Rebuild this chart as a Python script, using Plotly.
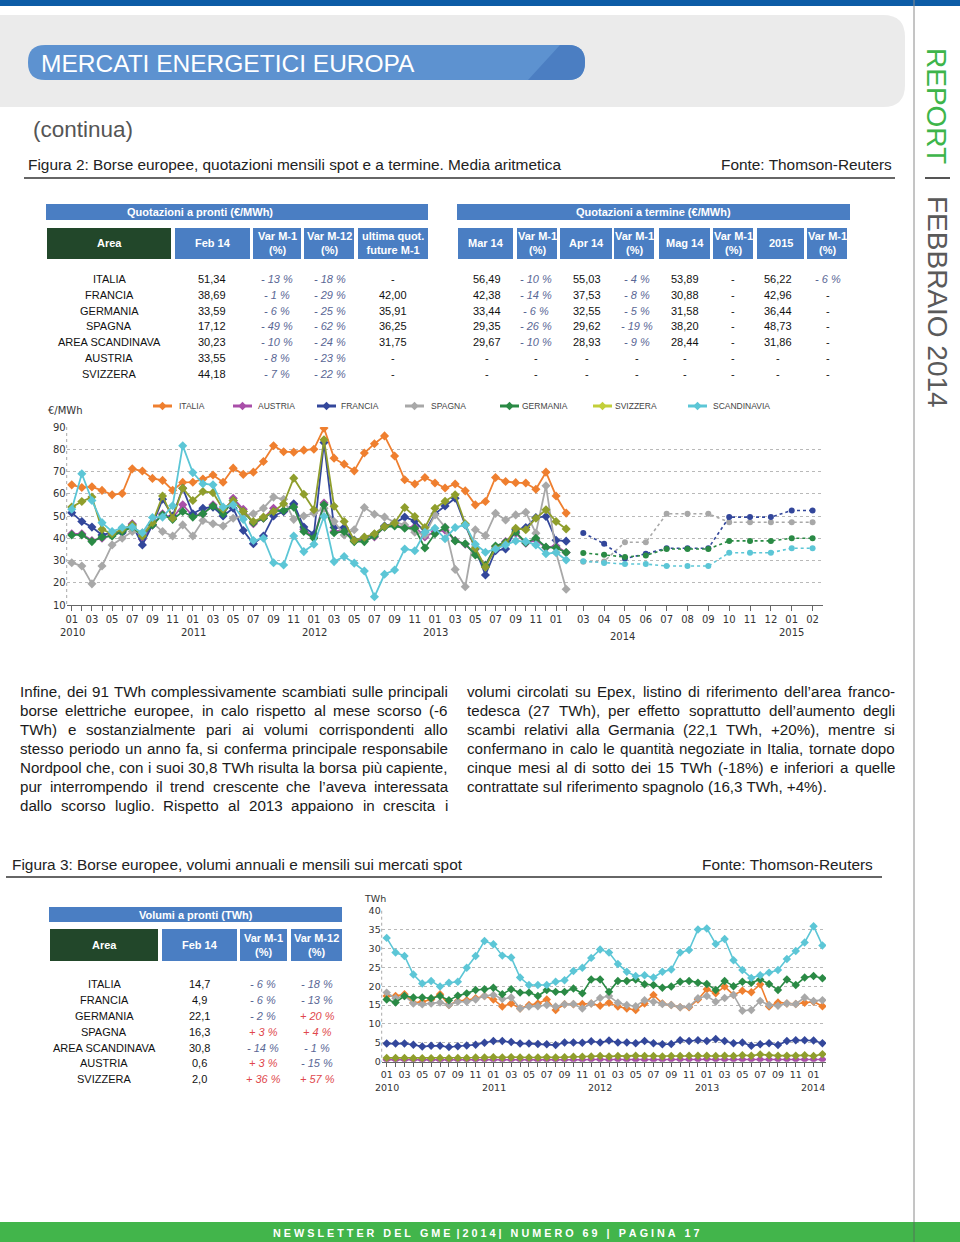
import plotly.graph_objects as go
import numpy as np

W, H = 960, 1242

# ------------------------------------------------------------------ DATA
hist_months = ["01", "02", "03", "04", "05", "06", "07", "08", "09", "10", "11", "12"] * 4 + ["01", "02"]
hist_years = ["2010", "2011", "2012", "2013"]
fwd_months = ["03", "04", "05", "06", "07", "08", "09", "10", "11", "12", "01", "02"]
fwd_years = ["2014", "2015"]

price_italia = [64, 62.8, 63.1, 61.5, 59.5, 60.1, 71.2, 70.2, 66.9, 66, 61.6, 65.1,
                65.2, 66.6, 68.4, 65.2, 71.5, 68.7, 69.7, 74.5, 81.6, 78.9, 78.7, 79.6,
                80, 89.5, 76, 73.3, 70.3, 78.3, 82.5, 86, 77, 66.3, 64.4, 67.3,
                64.8, 62.6, 64.4, 61.3, 55, 56.5, 67.3, 65.5, 65, 64.8, 62, 69.7,
                59, 51.3]
price_austria = [42, 42, 39, 40, 41.5, 43, 46.5, 39.5, 46, 51, 49, 55,
                 50, 51, 55, 51.5, 58, 53, 46.5, 49, 53.5, 52, 55, 44,
                 40.6, 55.8, 43, 43.8, 38.8, 39.2, 40.6, 45.2, 46, 44.8, 45.2, 40.6,
                 43, 43.6, 39, 37.3, 32.8, 28, 36.2, 38.5, 42.3, 37.8, 39.2, 35.8,
                 36.5, 33.6]
price_francia = [51.5, 47.5, 45, 41.5, 42.5, 42.5, 46, 37, 46, 57.5, 50, 62.5,
                 51, 53.5, 54, 50, 53.5, 43.5, 37.5, 41, 50, 52, 55.5, 45,
                 41.8, 83, 44.8, 44.8, 39.2, 40.3, 41.8, 45.5, 46.8, 49.5, 47.8, 42.7,
                 51, 54.5, 58, 46, 35.2, 23.5, 34.4, 35.2, 43.8, 44.8, 49.3, 49.8,
                 39.1, 38.7]
price_spagna = [29, 27.5, 19.5, 27.5, 37, 40, 43, 42.5, 47, 43, 41, 46,
                41, 48, 46.5, 45.5, 49, 50, 51, 53.5, 58.5, 57.5, 48.5, 50,
                51.3, 53.5, 47.5, 41.5, 43.8, 53.8, 50.8, 49.5, 47.2, 46, 42.7, 41.5,
                50.5, 45, 26, 18.2, 43.8, 41.2, 51.2, 48.2, 50.5, 51.7, 42.3, 63.6,
                33.6, 17.1]
price_germania = [41.5, 41.5, 38.5, 40.5, 41, 43, 45, 41, 46, 50.5, 48.5, 52,
                  49.5, 51, 54.5, 51, 57, 52, 47, 49, 52, 52.5, 54, 43,
                  40, 55, 42.5, 43, 38.5, 38.5, 41, 45, 45.5, 44.5, 44.5, 35.6,
                  42, 44.8, 38.8, 37.5, 32.5, 27.8, 36.5, 38.2, 42.8, 38, 40, 36,
                  35.7, 33.6]
price_svizzera = [54, 56.5, 58.5, 44, 42, 44, 46, 41, 47, 59, 49, 62.5,
                  57, 61, 60.5, 53, 57, 52, 47.5, 49.5, 52, 55.5, 67, 59.8,
                  52.8, 84.3, 54.4, 47.5, 39, 40.5, 42, 45.3, 46.8, 53.8, 49.8, 44.8,
                  53.5, 56.6, 59.5, 46.5, 35.5, 27, 35.5, 37.5, 44.5, 43.8, 49, 52.8,
                  47.5, 44.2]
price_scandinavia = [53, 69, 57, 47, 43, 44.8, 45, 42.5, 49.3, 49.5, 54.6, 81.6,
                     69.5, 64.5, 64, 54, 55, 48.5, 39, 40, 29, 28, 41, 34,
                     37.3, 49.8, 29.5, 31.8, 28.8, 25.3, 13.7, 23.8, 25.7, 35.2, 34.4, 42.7,
                     44.5, 39.8, 44.8, 46, 37.3, 33.7, 35.2, 37, 38.8, 38.5, 37, 33,
                     33.6, 30.2]

fwd_francia = [42.4, 37.5, 30.9, 33.0, 35.5, 35.5, 35.5, 49.5, 49.5, 49.5, 52.5, 52.5]
fwd_spagna = [29.4, 29.6, 38.2, 38.2, 51, 51, 51, 47.2, 47.2, 47.2, 47.2, 47.2]
fwd_germania = [33.4, 32.6, 31.6, 32.3, 35.2, 35.2, 35.2, 38.8, 38.8, 38.8, 40, 40]
fwd_scandinavia = [29.7, 28.9, 28.4, 28.4, 27.5, 27.5, 27.5, 33.5, 33.5, 33.5, 35.5, 35.5]

vol_years = ["2010", "2011", "2012", "2013", "2014"]
vol_italia = [17.4, 17.4, 17.9, 15.6, 15.9, 16.5, 17.9, 15, 16.1, 16.3, 16.8, 17.4,
              16.5, 14.6, 15.4, 14.1, 15, 15.4, 16.5, 13.7, 15.2, 15.2, 15.3, 15.4,
              14.8, 15.6, 14.6, 14.1, 13.7, 15.4, 17.7, 15.4, 15, 14.4, 14.4, 16.5,
              19.2, 18.1, 19.9, 17.7, 18.8, 18.4, 20.5, 14.6, 15.7, 15.4, 15.3, 15.6,
              15.9, 14.7]
vol_francia = [4.8, 4.8, 4.8, 4.5, 4.0, 4.2, 4.2, 3.9, 4.1, 4.3, 4.5, 5.0,
               5.5, 5.5, 5.2, 4.8, 4.8, 4.7, 4.6, 4.4, 5.1, 5.1, 5.0, 5.4,
               5.1, 5.6, 5.1, 5.1, 4.9, 5.5, 4.9, 4.6, 4.7, 5.7, 5.5, 5.7,
               5.5, 6.0, 5.5, 4.9, 5.1, 4.2, 4.6, 4.9, 4.4, 5.5, 5.7, 5.7,
               5.6, 4.9]
vol_germania = [16.5, 15.7, 17.4, 17, 17, 16.8, 17.4, 16.3, 17.5, 18.1, 19, 19.2,
                19.6, 17.9, 19.2, 18.3, 18.3, 17.4, 19, 18.5, 18.5, 19.4, 18.1, 21.8,
                21.8, 18.5, 21.4, 21.4, 21.8, 20.5, 20.3, 19.6, 19.9, 21.2, 21.4, 20.9,
                20.6, 19, 21.4, 20, 21.2, 20.9, 21.8, 20.6, 19, 21.8, 20.3, 22.3,
                22.7, 22.1]
vol_spagna = [18.3, 16.8, 17.4, 15.4, 15.2, 15.4, 15.7, 15, 15.9, 15.9, 16.5, 17.4,
              17.7, 16.6, 17, 14.1, 14.6, 14.7, 15, 14.6, 15.2, 15.3, 14.1, 15.4,
              16.9, 17.4, 15.6, 15, 14.7, 16.3, 15.9, 15.3, 15, 14.4, 14.6, 16.8,
              17.4, 15.9, 16.9, 17.7, 13.5, 13.7, 16.1, 15, 14.8, 15.4, 15.3, 17,
              16.1, 16.3]
vol_scandinavia = [32.8, 28.9, 28, 23.1, 20.7, 21.4, 19.9, 20.9, 21.2, 24.9, 28, 32,
                   31.1, 28.1, 27.6, 22.3, 20.3, 20.3, 20.3, 21.2, 21.6, 24, 24.9, 27.5,
                   29.7, 28.9, 25.9, 23.8, 22.7, 22.9, 22.3, 23.8, 24.4, 28.9, 29.6, 35,
                   35.3, 31.2, 32.5, 26.9, 24.3, 22.2, 22.9, 23.6, 24.3, 27.2, 29.3, 31.6,
                   35.9, 30.8]
vol_austria = [0.5, 0.5, 0.5, 0.5, 0.4, 0.4, 0.4, 0.4, 0.5, 0.5, 0.5, 0.5,
               0.5, 0.5, 0.5, 0.5, 0.5, 0.4, 0.5, 0.5, 0.5, 0.5, 0.5, 0.6,
               0.6, 0.5, 0.6, 0.5, 0.5, 0.5, 0.5, 0.5, 0.6, 0.6, 0.6, 0.6,
               0.7, 0.6, 0.6, 0.6, 0.6, 0.6, 0.6, 0.6, 0.6, 0.6, 0.6, 0.6,
               0.6, 0.6]
vol_svizzera = [1.0, 1.0, 1.0, 0.9, 0.9, 0.9, 1.0, 0.9, 1.0, 1.0, 1.1, 1.1,
                1.2, 1.1, 1.2, 1.1, 1.1, 1.1, 1.2, 1.1, 1.2, 1.3, 1.3, 1.4,
                1.5, 1.4, 1.5, 1.4, 1.6, 1.5, 1.5, 1.4, 1.5, 1.5, 1.6, 1.6,
                1.6, 1.5, 1.6, 1.5, 1.7, 1.6, 1.9, 1.7, 1.6, 1.6, 1.6, 1.7,
                1.5, 2.0]

# tables
spot_areas = ["ITALIA", "FRANCIA", "GERMANIA", "SPAGNA", "AREA SCANDINAVA", "AUSTRIA", "SVIZZERA"]
spot_feb14 = ["51,34", "38,69", "33,59", "17,12", "30,23", "33,55", "44,18"]
spot_varm1 = ["- 13 %", "- 1 %", "- 6 %", "- 49 %", "- 10 %", "- 8 %", "- 7 %"]
spot_varm12 = ["- 18 %", "- 29 %", "- 25 %", "- 62 %", "- 24 %", "- 23 %", "- 22 %"]
spot_future = ["-", "42,00", "35,91", "36,25", "31,75", "-", "-"]
term_mar = ["56,49", "42,38", "33,44", "29,35", "29,67", "-", "-"]
term_mar_var = ["- 10 %", "- 14 %", "- 6 %", "- 26 %", "- 10 %", "-", "-"]
term_apr = ["55,03", "37,53", "32,55", "29,62", "28,93", "-", "-"]
term_apr_var = ["- 4 %", "- 8 %", "- 5 %", "- 19 %", "- 9 %", "-", "-"]
term_mag = ["53,89", "30,88", "31,58", "38,20", "28,44", "-", "-"]
term_mag_var = ["-", "-", "-", "-", "-", "-", "-"]
term_2015 = ["56,22", "42,96", "36,44", "48,73", "31,86", "-", "-"]
term_2015_var = ["- 6 %", "-", "-", "-", "-", "-", "-"]
vol_feb14 = ["14,7", "4,9", "22,1", "16,3", "30,8", "0,6", "2,0"]
vol_varm1 = ["- 6 %", "- 6 %", "- 2 %", "+ 3 %", "- 14 %", "+ 3 %", "+ 36 %"]
vol_varm12 = ["- 18 %", "- 13 %", "+ 20 %", "+ 4 %", "- 1 %", "- 15 %", "+ 57 %"]

para_left = [
    "Infine, dei 91 TWh complessivamente scambiati sulle principali",
    "borse elettriche europee, in calo rispetto al mese scorso (-6",
    "TWh) e sostanzialmente pari ai volumi corrispondenti allo",
    "stesso periodo un anno fa, si conferma principale responsabile",
    "Nordpool che, con i suoi 30,8 TWh risulta la borsa più capiente,",
    "pur interrompendo il trend crescente che l’aveva interessata",
    "dallo scorso luglio. Rispetto al 2013 appaiono in crescita i",
]
para_right = [
    "volumi circolati su Epex, listino di riferimento dell’area franco-",
    "tedesca (27 TWh), per effetto soprattutto dell’aumento degli",
    "scambi relativi alla Germania (22,1 TWh, +20%), mentre si",
    "confermano in calo le quantità negoziate in Italia, tornate dopo",
    "cinque mesi al di sotto dei 15 TWh (-18%) e inferiori a quelle",
    "contrattate sul riferimento spagnolo (16,3 TWh, +4%).",
]

# ------------------------------------------------------------------ STYLE
C = {
    "ITALIA": "#ef7f2f", "AUSTRIA": "#a94fa9", "FRANCIA": "#33479b", "SPAGNA": "#a8a8a8",
    "GERMANIA": "#2a8a45", "SVIZZERA": "#8f9e2c", "SCANDINAVIA": "#5cc6d6",
}
LEG_SVI = "#c3cf3a"
BLUE = "#4a7ec3"
DKGREEN = "#22472a"
NEG = "#5a6795"
POS = "#e0474c"
SANS = "Liberation Sans, Arial, sans-serif"
VER = "DejaVu Sans, Verdana, sans-serif"

# Arial / Liberation Sans advance widths (1/1000 em), used to justify the body text
AW = {' ': 278, 'f': 278, 'i': 222, 'j': 222, 'l': 222, 't': 278, 'r': 333, 'c': 500, 'k': 500,
      's': 500, 'v': 500, 'x': 500, 'y': 500, 'z': 500, 'm': 833, 'w': 722, ',': 278, '.': 278,
      '(': 333, ')': 333, '-': 333, '%': 889, '+': 584, '’': 222, 'ì': 278,
      'A': 667, 'B': 667, 'C': 722, 'D': 722, 'E': 667, 'F': 611, 'G': 778, 'H': 722, 'I': 278,
      'J': 500, 'K': 667, 'L': 556, 'M': 833, 'N': 722, 'O': 778, 'P': 667, 'Q': 778, 'R': 722,
      'S': 667, 'T': 611, 'U': 722, 'V': 667, 'W': 944, 'X': 667, 'Y': 667, 'Z': 611}


def tw(s, size):
    return sum(AW.get(ch, 556) for ch in s) / 1000.0 * size


def X(px):
    return px / W


def Y(py):
    return 1 - py / H


shapes, ann = [], []


def rect(x0, y0, x1, y1, color, layer="below"):
    shapes.append(dict(type="rect", xref="paper", yref="paper", x0=X(x0), x1=X(x1),
                       y0=Y(y1), y1=Y(y0), fillcolor=color, line=dict(width=0), layer=layer))


def hline(x0, x1, y, color, width=1, dash="solid"):
    shapes.append(dict(type="line", xref="paper", yref="paper", x0=X(x0), x1=X(x1),
                       y0=Y(y), y1=Y(y), line=dict(color=color, width=width, dash=dash)))


def vline(x, y0, y1, color, width=1, dash="solid"):
    shapes.append(dict(type="line", xref="paper", yref="paper", x0=X(x), x1=X(x),
                       y0=Y(y0), y1=Y(y1), line=dict(color=color, width=width, dash=dash)))


def rpath(x0, y0, x1, y1, r):
    p = [f"M {X(x0 + r)},{Y(y0)}", f"L {X(x1 - r)},{Y(y0)}",
         f"Q {X(x1)},{Y(y0)} {X(x1)},{Y(y0 + r)}", f"L {X(x1)},{Y(y1 - r)}",
         f"Q {X(x1)},{Y(y1)} {X(x1 - r)},{Y(y1)}", f"L {X(x0 + r)},{Y(y1)}",
         f"Q {X(x0)},{Y(y1)} {X(x0)},{Y(y1 - r)}", f"L {X(x0)},{Y(y0 + r)}",
         f"Q {X(x0)},{Y(y0)} {X(x0 + r)},{Y(y0)}", "Z"]
    return " ".join(p)


def txt(x, y, s, size=11, color="#111", anchor="center", family=SANS, angle=0):
    ann.append(dict(xref="paper", yref="paper", x=X(x), y=Y(y), text=s, showarrow=False,
                    xanchor=anchor, yanchor="middle", textangle=angle, borderpad=0,
                    font=dict(size=size, color=color, family=family)))


def pct(s):
    if "%" not in s:
        return s, "#111"
    col = POS if s.strip().startswith("+") else NEG
    return f"<i>{s}</i>", col


def justified(lines, x0, width, y0, step, size, last_justified):
    for i, line in enumerate(lines):
        yy = y0 + i * step
        words = line.split(" ")
        if (i == len(lines) - 1 and not last_justified) or len(words) < 2:
            txt(x0, yy, line, size=size, color="#1a1a1a", anchor="left")
            continue
        ws = [tw(w, size) for w in words]
        gap = (width - sum(ws)) / (len(words) - 1)
        gap = max(gap, tw(" ", size) * 0.6)
        x = x0
        for w, wd in zip(words, ws):
            txt(x, yy, w, size=size, color="#1a1a1a", anchor="left")
            x += wd + gap


# ------------------------------------------------------------------ PAGE DECOR
rect(0, 0, W, 6, "#0d5ca6")
shapes.append(dict(type="path", xref="paper", yref="paper", path=rpath(-30, 15, 905, 107, 22),
                   fillcolor="#ebebeb", line=dict(width=0), layer="below"))
shapes.append(dict(type="path", xref="paper", yref="paper", path=rpath(28, 45, 585, 80, 17),
                   fillcolor="#5d92d0", line=dict(width=0), layer="below"))
shapes.append(dict(type="path", xref="paper", yref="paper",
                   path=f"M {X(560)},{Y(45)} L {X(568)},{Y(45)} Q {X(585)},{Y(45)} {X(585)},{Y(62)} "
                        f"Q {X(585)},{Y(80)} {X(568)},{Y(80)} L {X(528)},{Y(80)} Z",
                   fillcolor="#4b7ec2", line=dict(width=0), layer="below"))
txt(40, 63, "MERCATI ENERGETICI EUROPA", size=24.5, color="white", anchor="left")
txt(32, 129, "(continua)", size=22.5, color="#555555", anchor="left")
txt(27, 164, "Figura 2: Borse europee, quotazioni mensili spot e a termine. Media aritmetica",
    size=15.4, color="#222", anchor="left")
txt(893, 164, "Fonte: Thomson-Reuters", size=15.4, color="#222", anchor="right")
hline(24, 895, 178, "#333333", 1.5)

vline(914, 0, H, "#8a8a8a", 1)
txt(937, 106, "REPORT", size=28, color="#3db54a", angle=90)
hline(925, 950, 178, "#555555", 2)
txt(937, 302, "FEBBRAIO 2014", size=28, color="#5a5a5a", angle=90)

rect(0, 1222, W, H, "#42b54b")
vline(914, 1222, H, "#2e8a38", 1)
sp = "\u00a0"
footer = (sp.join("NEWSLETTER") + sp * 3 + sp.join("DEL") + sp * 3 + sp.join("GME") + sp * 2 + "|" + sp
          + sp.join("2014") + sp + "|" + sp * 3 + sp.join("NUMERO") + sp * 3 + sp.join("69") + sp * 3 + "|"
          + sp * 3 + sp.join("PAGINA") + sp * 3 + sp.join("17"))
txt(486, 1233, f"<b>{footer}</b>", size=10.8, color="white")

# ------------------------------------------------------------------ TABLE 1 (spot prices)
rect(46, 204, 428, 220, BLUE)
txt(200, 212, "<b>Quotazioni a pronti (€/MWh)</b>", size=11, color="white")
rect(47, 228, 171, 259, DKGREEN)
txt(109, 243, "<b>Area</b>", size=11, color="white")
for (a, b, lab) in [(175, 250, "Feb 14"), (253, 301, "Var M-1<br>(%)"), (304, 354, "Var M-12<br>(%)"),
                    (358, 428, "ultima quot.<br>future M-1")]:
    rect(a, 228, b, 259, BLUE)
    txt((a + b) / 2, 243.5, f"<b>{lab}</b>", size=11, color="white")
rows_y = [279, 295, 311, 326, 342, 358, 374]
for i, yy in enumerate(rows_y):
    txt(109, yy, spot_areas[i], size=11)
    txt(212, yy, spot_feb14[i], size=11)
    s, c = pct(spot_varm1[i]); txt(277, yy, s, size=11, color=c)
    s, c = pct(spot_varm12[i]); txt(330, yy, s, size=11, color=c)
    txt(393, yy, spot_future[i], size=11)

# ------------------------------------------------------------------ TABLE 2 (forward)
rect(457, 204, 850, 220, BLUE)
txt(653, 212, "<b>Quotazioni a termine (€/MWh)</b>", size=11, color="white")
cols = [(458, 513, "Mar 14", term_mar), (517, 557, "Var M-1<br>(%)", term_mar_var),
        (560, 612, "Apr 14", term_apr), (614, 654, "Var M-1<br>(%)", term_apr_var),
        (659, 710, "Mag 14", term_mag), (713, 753, "Var M-1<br>(%)", term_mag_var),
        (757, 804, "2015", term_2015), (807, 847, "Var M-1<br>(%)", term_2015_var)]
centers = [487, 536, 587, 637, 685, 733, 778, 828]
for (a, b, lab, vals), cx in zip(cols, centers):
    rect(a, 228, b, 259, BLUE)
    txt((a + b) / 2, 243.5, f"<b>{lab}</b>", size=11, color="white")
    for i, yy in enumerate(rows_y):
        s, c = pct(vals[i])
        txt(cx, yy, s, size=11, color=c)

# ------------------------------------------------------------------ TABLE 3 (volumes)
rect(49, 907, 342, 922, BLUE)
txt(196, 914.5, "<b>Volumi a pronti (TWh)</b>", size=11, color="white")
rect(50, 929, 158, 961, DKGREEN)
txt(104, 945, "<b>Area</b>", size=11, color="white")
for (a, b, lab) in [(162, 237, "Feb 14"), (240, 287, "Var M-1<br>(%)"), (291, 342, "Var M-12<br>(%)")]:
    rect(a, 929, b, 961, BLUE)
    txt((a + b) / 2, 945, f"<b>{lab}</b>", size=11, color="white")
rows3_y = [984, 1000, 1016, 1032, 1048, 1063, 1079]
for i, yy in enumerate(rows3_y):
    txt(104, yy, spot_areas[i], size=11)
    txt(199, yy, vol_feb14[i], size=11)
    s, c = pct(vol_varm1[i]); txt(263, yy, s, size=11, color=c)
    s, c = pct(vol_varm12[i]); txt(317, yy, s, size=11, color=c)

# ------------------------------------------------------------------ TEXT
body_size = min(15.4, 426 / max(tw(l, 1) for l in para_left + para_right))
justified(para_left, 19, 428, 691, 19, body_size, True)
justified(para_right, 466, 428, 691, 19, body_size, False)
txt(11, 864, "Figura 3: Borse europee, volumi annuali e mensili sui mercati spot",
    size=15.4, color="#222", anchor="left")
txt(874, 864, "Fonte: Thomson-Reuters", size=15.4, color="#222", anchor="right")
hline(6, 882, 877, "#333333", 1.5)

# ------------------------------------------------------------------ CHARTS
fig = go.Figure()
hist_x = np.arange(len(hist_months))
fwd_x = np.arange(len(fwd_months))
hist_series = [("ITALIA", price_italia), ("AUSTRIA", price_austria), ("FRANCIA", price_francia),
               ("SPAGNA", price_spagna), ("GERMANIA", price_germania), ("SVIZZERA", price_svizzera),
               ("SCANDINAVIA", price_scandinavia)]
for name, vals in hist_series:
    fig.add_trace(go.Scatter(x=hist_x, y=vals, xaxis="x", yaxis="y", mode="lines+markers",
                             line=dict(color=C[name], width=1.8),
                             marker=dict(symbol="diamond", size=7, color=C[name]),
                             showlegend=False, hoverinfo="skip", name=name))
fwd_series = [("SPAGNA", fwd_spagna), ("FRANCIA", fwd_francia), ("SCANDINAVIA", fwd_scandinavia),
              ("GERMANIA", fwd_germania)]
for name, vals in fwd_series:
    fig.add_trace(go.Scatter(x=fwd_x, y=vals, xaxis="x2", yaxis="y2", mode="lines+markers",
                             line=dict(color=C[name], width=1.6, dash="dot"),
                             marker=dict(symbol="circle", size=6, color=C[name]),
                             showlegend=False, hoverinfo="skip", name=name))

vol_series = [("ITALIA", vol_italia), ("AUSTRIA", vol_austria), ("FRANCIA", vol_francia),
              ("SPAGNA", vol_spagna), ("GERMANIA", vol_germania), ("SVIZZERA", vol_svizzera),
              ("SCANDINAVIA", vol_scandinavia)]
for name, vals in vol_series:
    fig.add_trace(go.Scatter(x=hist_x, y=vals, xaxis="x3", yaxis="y3", mode="lines+markers",
                             line=dict(color=C[name], width=1.6),
                             marker=dict(symbol="diamond", size=6.5, color=C[name]),
                             showlegend=False, hoverinfo="skip", name=name))

# legend chart 1
leg = [("ITALIA", 153, 178), ("AUSTRIA", 233, 257), ("FRANCIA", 317, 340), ("SPAGNA", 405, 430),
       ("GERMANIA", 500, 521), ("SVIZZERA", 593, 614), ("SCANDINAVIA", 688, 712)]
for name, sx, tx in leg:
    col = LEG_SVI if name == "SVIZZERA" else C[name]
    hline(sx, sx + 19, 406, col, 3)
    cx, cy, r = sx + 9.5, 406, 4.2
    shapes.append(dict(type="path", xref="paper", yref="paper",
                       path=f"M {X(cx)},{Y(cy - r)} L {X(cx + r)},{Y(cy)} L {X(cx)},{Y(cy + r)} L {X(cx - r)},{Y(cy)} Z",
                       fillcolor=col, line=dict(width=0)))
    txt(tx, 406, name, size=8.5, color="#444", anchor="left")

txt(47, 410, "€/MWh", size=10, color="#333", anchor="left", family=VER)
vline(66.7, 427, 605, "#a8a8a8", 1, "dot")
for i, yr in enumerate(hist_years):
    txt(72 + i * 121, 632, yr, size=10, color="#333", family=VER)
txt(622, 636, fwd_years[0], size=10, color="#333", family=VER)
txt(791, 632, fwd_years[1], size=10, color="#333", family=VER)

txt(363, 898, "TWh", size=9.5, color="#333", anchor="left", family=VER)
vline(381.7, 910.7, 1061.7, "#a8a8a8", 1, "dot")
for i, yr in enumerate(vol_years):
    txt(387 + i * 106.6, 1087, yr, size=9.5, color="#333", family=VER)

tickfont = dict(family=VER, size=10, color="#333")
tickfont2 = dict(family=VER, size=9.5, color="#333")
grid = dict(showgrid=True, gridcolor="#b9b9b9", griddash="dot", gridwidth=1, zeroline=False)

fig.update_layout(
    width=W, height=H, margin=dict(l=0, r=0, t=0, b=0, autoexpand=False),
    paper_bgcolor="white", plot_bgcolor="rgba(0,0,0,0)",
    showlegend=False, shapes=shapes, annotations=ann,
    font=dict(family=SANS),
    xaxis=dict(domain=[X(66.7), X(572)], range=[-0.5, 49.58], anchor="y",
               tickmode="array", tickvals=hist_x,
               ticktext=[m if i % 2 == 0 else "" for i, m in enumerate(hist_months)],
               ticks="outside", ticklen=5, tickcolor="#666", showline=True, linecolor="#666",
               showgrid=False, zeroline=False, tickfont=tickfont, tickangle=0),
    yaxis=dict(domain=[Y(605), Y(427)], range=[10, 90], anchor="x", tickvals=list(range(10, 91, 10)),
               tickfont=tickfont, ticks="", **grid),
    xaxis2=dict(domain=[X(572), X(823)], range=[-0.54, 11.5], anchor="y2",
                tickmode="array", tickvals=fwd_x, ticktext=fwd_months,
                ticks="outside", ticklen=5, tickcolor="#666", showline=True, linecolor="#666",
                showgrid=False, zeroline=False, tickfont=tickfont, tickangle=0),
    yaxis2=dict(domain=[Y(605), Y(427)], range=[10, 90], anchor="x2", tickvals=list(range(10, 91, 10)),
                showticklabels=False, ticks="", **grid),
    xaxis3=dict(domain=[X(381.7), X(826)], range=[-0.56, 49.4], anchor="y3",
                tickmode="array", tickvals=hist_x,
                ticktext=[m if i % 2 == 0 else "" for i, m in enumerate(hist_months)],
                ticks="outside", ticklen=4, tickcolor="#666", showline=True, linecolor="#666",
                showgrid=False, zeroline=False, tickfont=tickfont2, tickangle=0),
    yaxis3=dict(domain=[Y(1061.7), Y(910.7)], range=[0, 40], anchor="x3", tickvals=list(range(0, 41, 5)),
                tickfont=tickfont2, ticks="", **grid),
)

fig.write_html("out.html", config={"displayModeBar": False},
               post_script="document.body.style.margin='0px';document.body.style.padding='0px';"
                           "document.body.style.overflow='hidden';")
